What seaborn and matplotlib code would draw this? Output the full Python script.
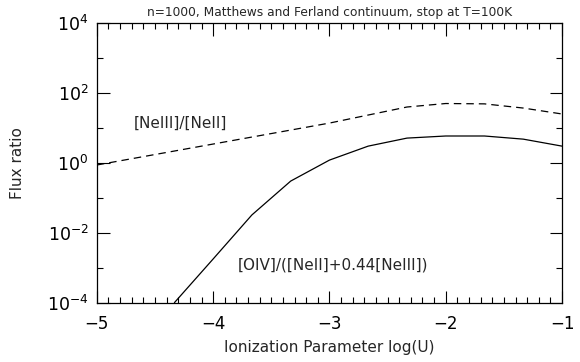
import numpy as np
import pandas as pd
import matplotlib
matplotlib.use("Agg")
import matplotlib.pyplot as plt
from matplotlib.ticker import FixedLocator, MultipleLocator, FuncFormatter, NullFormatter
import seaborn as sns

# log10(U) grid
logU = [-5.0, -4.667, -4.333, -4.0, -3.667, -3.333, -3.0,
        -2.667, -2.333, -2.0, -1.667, -1.333, -1.0]
# log10 of [NeIII]/[NeII]
log_ne32 = [-0.06, 0.14, 0.34, 0.54, 0.74, 0.94, 1.14,
            1.37, 1.60, 1.70, 1.69, 1.57, 1.40]
# log10 of [OIV]/([NeII]+0.44[NeIII]) (starts at the bottom axis)
logU_o4 = [-4.333, -4.0, -3.667, -3.333, -3.0, -2.667, -2.333,
           -2.0, -1.667, -1.333, -1.0]
log_o4 = [-4.0, -2.75, -1.49, -0.52, 0.08, 0.48, 0.71,
          0.77, 0.77, 0.68, 0.48]

df1 = pd.DataFrame({"logU": logU, "ratio": 10 ** np.array(log_ne32)})
df2 = pd.DataFrame({"logU": logU_o4, "ratio": 10 ** np.array(log_o4)})

sns.set_style("ticks")
plt.rcParams['font.family'] = ['DejaVu Sans']
plt.rcParams['mathtext.default'] = 'regular'

fig = plt.figure(figsize=(5.8, 3.62), dpi=100)
ax = fig.add_axes([0.167, 0.164, 0.802, 0.772])

sns.lineplot(data=df1, x="logU", y="ratio", ax=ax, color="k", lw=0.9,
             dashes=False, linestyle=(0, (6, 4)))
sns.lineplot(data=df2, x="logU", y="ratio", ax=ax, color="k", lw=0.9)

ax.set_yscale("log")
ax.set_xlim(-5, -1)
ax.set_ylim(1e-4, 1e4)

ax.xaxis.set_major_locator(MultipleLocator(1))
ax.xaxis.set_minor_locator(MultipleLocator(0.1))
ax.yaxis.set_major_locator(FixedLocator([1e-4, 1e-2, 1e0, 1e2, 1e4]))
ax.yaxis.set_minor_locator(FixedLocator([1e-3, 1e-1, 1e1, 1e3]))
ax.yaxis.set_minor_formatter(NullFormatter())
ax.yaxis.set_major_formatter(FuncFormatter(
    lambda v, p: "$10^{%s}$" % str(int(round(np.log10(v)))).replace("-", "\u2212")))
ax.xaxis.set_major_formatter(FuncFormatter(
    lambda v, p: ("%d" % round(v)).replace("-", "\u2212")))

ax.tick_params(which="both", direction="in", top=True, right=True,
               colors="k", width=0.8)
ax.tick_params(which="major", length=9)
ax.tick_params(which="minor", length=4.5)
ax.tick_params(axis="x", which="major", pad=9, labelsize=12)
ax.tick_params(axis="y", which="major", pad=6, labelsize=12.5)
for s in ax.spines.values():
    s.set_linewidth(0.9)
    s.set_color("k")

ax.set_xlabel("Ionization Parameter log(U)", fontsize=11, labelpad=5)
ax.set_ylabel("Flux ratio", fontsize=11, labelpad=16)
ax.set_title("n=1000, Matthews and Ferland continuum, stop at T=100K",
             fontsize=8.8, pad=5)

ax.text(-4.68, 10 ** 1.14, "[NeIII]/[NeII]", fontsize=11, va="center")
ax.text(-3.79, 10 ** -2.93, "[OIV]/([NeII]+0.44[NeIII])", fontsize=11, va="center")

fig.savefig("out.png", dpi=100)
